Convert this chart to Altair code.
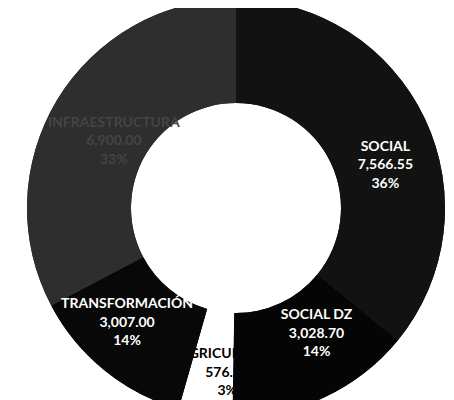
import altair as alt
import pandas as pd

categorias = ["SOCIAL", "SOCIAL DZ", "AGRICULTURA", "TRANSFORMACIÓN", "INFRAESTRUCTURA"]
montos = [7566.55, 3028.70, 576.75, 3007.00, 6900.00]
colores = ["#121212", "#050505", "#ffffff", "#080808", "#2e2e2e"]

total = sum(montos)
etiquetas = [f"{c}\n{m:,.2f}\n{round(100 * m / total)}%" for c, m in zip(categorias, montos)]

df = pd.DataFrame({
    "cat": categorias,
    "monto": montos,
    "orden": list(range(len(categorias))),
    "label": etiquetas,
})

CX, CY = 228, 200
R_OUT, R_IN = 209, 105
FONT = "Lato"
GAP = 0.09  # extra separation of the pulled-out slice (radians)

color = alt.Color("cat:N", scale=alt.Scale(domain=categorias, range=colores), legend=None)

# arcs with explicit start/end angles derived from the cumulative values
arc_base = alt.Chart(df).transform_window(
    cum="sum(monto)", sort=[alt.SortField("orden")], frame=[None, 0]
).transform_joinaggregate(
    tot="sum(monto)"
).transform_calculate(
    t0=f"2*PI*(datum.cum - datum.monto)/datum.tot + (datum.cat == 'TRANSFORMACIÓN' ? {GAP} : 0)",
    t1=f"2*PI*datum.cum/datum.tot + (datum.cat == 'AGRICULTURA' ? {GAP} : 0)",
).encode(
    theta=alt.Theta("t0:Q", scale=None),
    theta2="t1:Q",
    x=alt.value(CX),
    y=alt.value(CY),
)

arcs_bottom = arc_base.mark_arc(outerRadius=R_OUT, innerRadius=R_IN).encode(color=color)
arcs_top = arc_base.mark_arc(outerRadius=R_OUT, innerRadius=R_IN).encode(
    color=color,
    opacity=alt.condition("datum.cat == 'AGRICULTURA'", alt.value(0), alt.value(1)),
)

base = alt.Chart(df).encode(
    theta=alt.Theta("monto:Q", stack=True),
    order=alt.Order("orden:Q"),
    x=alt.value(CX),
    y=alt.value(CY),
)


def etiqueta(cat, radius, col, dx=0, dy=0):
    return base.transform_calculate(
        t=f"datum.cat == '{cat}' ? datum.label : ''"
    ).mark_text(
        radius=radius, font=FONT, fontWeight="bold", fontSize=14,
        lineBreak="\n", lineHeight=18.5, color=col, dx=dx, dy=dy,
        align="center", baseline="middle",
    ).encode(text="t:N")


chart = alt.layer(
    arcs_bottom,
    etiqueta("AGRICULTURA", 164, "#000000", dx=8, dy=-17),
    arcs_top,
    etiqueta("SOCIAL", 162, "#ffffff", dx=3, dy=8),
    etiqueta("SOCIAL DZ", 146, "#ffffff", dx=19, dy=-25),
    etiqueta("TRANSFORMACIÓN", 158, "#ffffff", dx=-15, dy=-31),
    etiqueta("INFRAESTRUCTURA", 152, "#444444", dx=8, dy=-7),
).properties(
    width=438, height=392, padding=0,
    autosize=alt.AutoSizeParams(type="none"),
).configure_view(stroke=None)

chart.save("out.html", embed_options={"renderer": "svg", "actions": False})
